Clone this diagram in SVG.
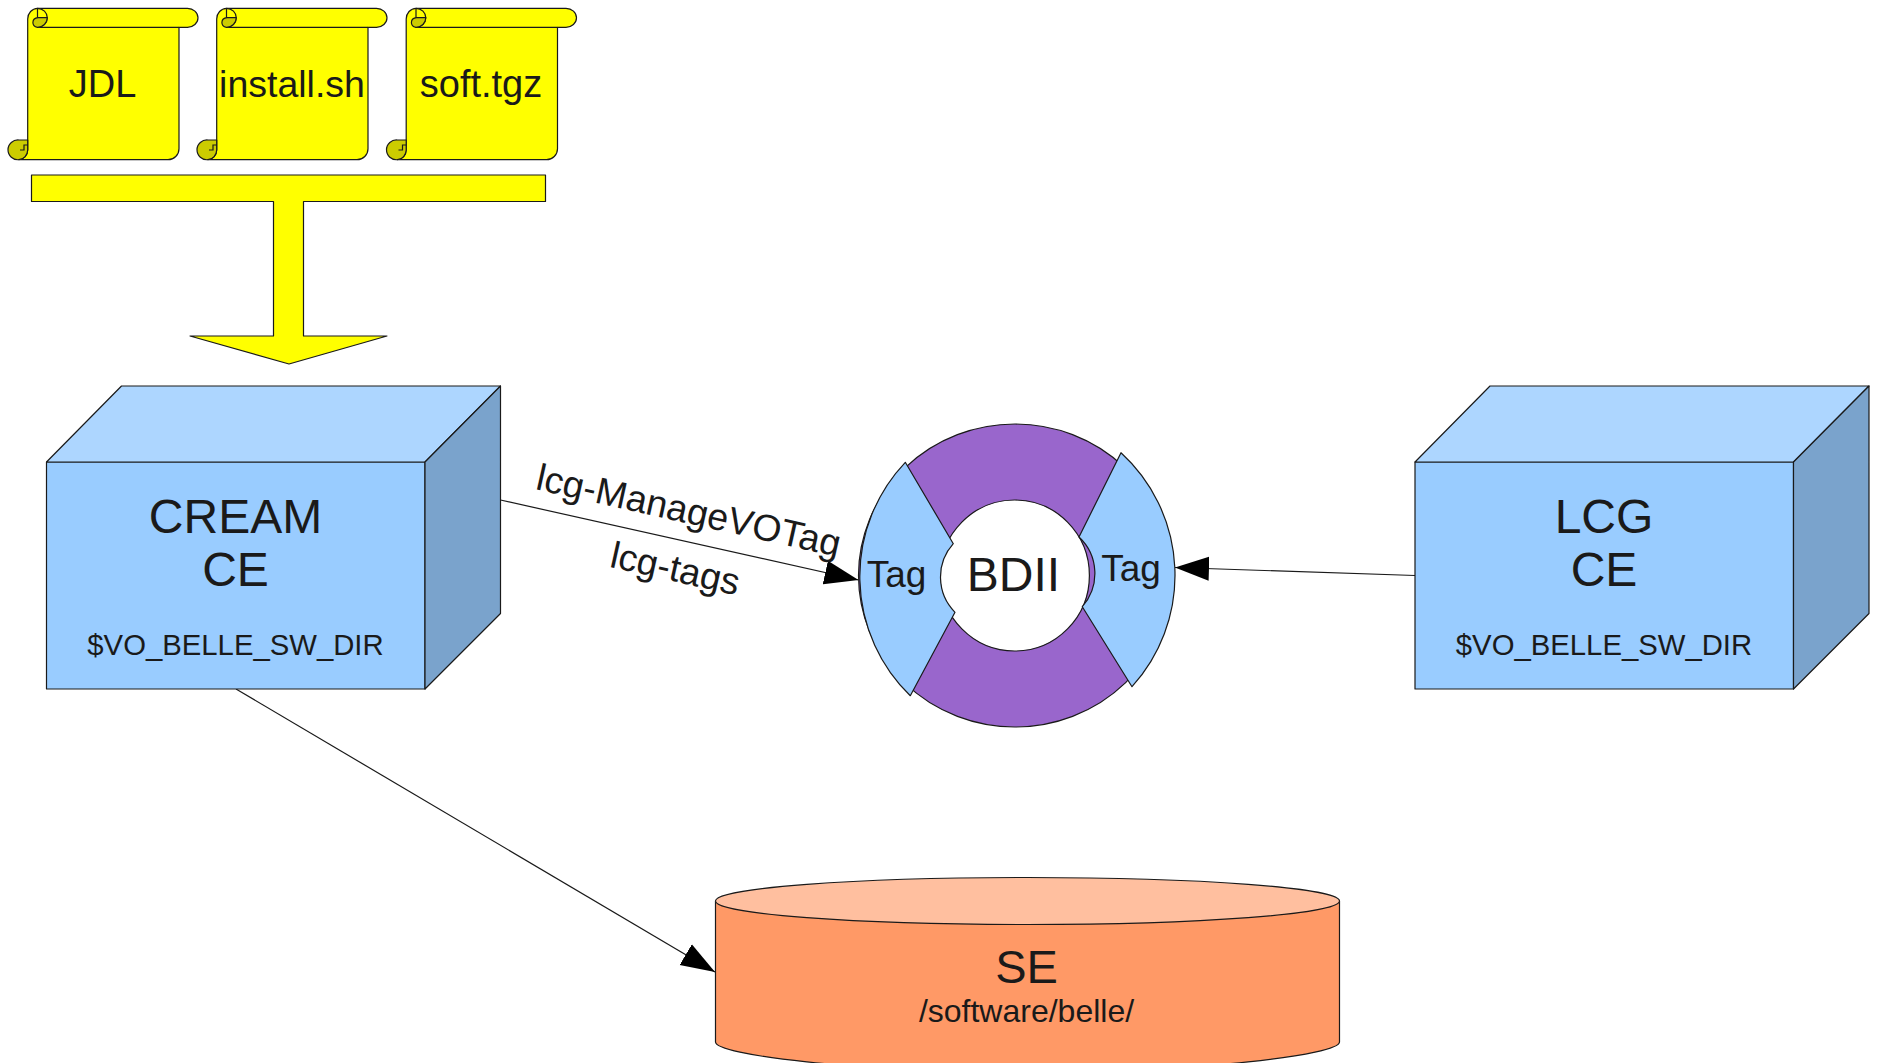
<svg xmlns="http://www.w3.org/2000/svg" xmlns:xlink="http://www.w3.org/1999/xlink" width="1877" height="1063" viewBox="0 0 1877 1063">
<style>
text{font-family:"Liberation Sans",Arial,sans-serif;fill:#1a1a1a;text-anchor:middle}
.s{stroke:#1a1a1a;stroke-width:1.2;stroke-linejoin:round}
.y{fill:#ffff00}.d{fill:#cccc00}
.f{fill:#99ccff}.t{fill:#add6ff}.r{fill:#7aa3cc}
.c{fill:none;stroke:#1a1a1a;stroke-width:1.2}
</style>
<defs>
<marker id="ah" markerUnits="userSpaceOnUse" markerWidth="36" markerHeight="26" refX="34" refY="13" orient="auto"><path d="M0 1L34 13L0 25Z" fill="#000"/></marker>
<g id="scroll">
<path class="s y" d="M27.700 150V19A10 10.700 0 0 1 37.500 8.300H187.500A10.500 9.500 0 0 1 187.500 27.300H179V148.700A11 11 0 0 1 168 159.700H19A9.500 9.900 0 0 0 27.700 150Z"/>
<path class="s d" d="M27.700 140H19A10 9.900 0 1 0 19 159.700A9.500 9.900 0 0 0 27.700 150Z"/>
<path class="c" d="M37.500 27.300H179"/>
<path class="c" d="M27.700 145H24V150H20"/>
<path class="s y" d="M37.500 8.300A10 9.500 0 0 1 47.300 17.800A10 9.500 0 0 1 37.500 27.300Z"/>
<path class="s d" d="M47.300 17.600H38A5.600 4.900 0 0 0 37.500 27.300A10 9.700 0 0 0 47.300 17.600Z"/>
</g>
<g id="box">
<path class="s f" d="M46.500 462H425V689H46.500Z"/>
<path class="s t" d="M46.500 462L121.500 386H500.500L425 462Z"/>
<path class="s r" d="M425 462L500.500 386V613.500L425 689Z"/>
</g>
</defs>
<g id="connectors">
<path class="c" d="M500.500 500L858.500 580" marker-end="url(#ah)"/>
<path class="c" d="M1415 575.500L1175 567.500" marker-end="url(#ah)"/>
<path class="c" d="M236 689L715 972" marker-end="url(#ah)"/>
<text font-size="37.500" transform="translate(686 523) rotate(12.600)">lcg-ManageVOTag</text>
<text font-size="37.500" transform="translate(672.500 581) rotate(12.600)">lcg-tags</text>
</g>
<g id="jdl"><use xlink:href="#scroll" href="#scroll"/><text x="102.500" y="97" font-size="38">JDL</text></g>
<g id="install"><use xlink:href="#scroll" href="#scroll" x="189"/><text x="292" y="97" font-size="37.500">install.sh</text></g>
<g id="soft"><use xlink:href="#scroll" href="#scroll" x="378.500"/><text x="481" y="97" font-size="38">soft.tgz</text></g>
<g id="merge-arrow"><path class="s y" d="M31.500 175H545.500V201.500H303.500V336H387L289 364L190 336H273.500V201.500H31.500Z"/></g>
<g id="cream-ce"><use xlink:href="#box" href="#box"/>
<text x="235.500" y="533" font-size="48">CREAM</text><text x="235.500" y="585.500" font-size="48">CE</text><text x="235.500" y="655" font-size="29.300">$VO_BELLE_SW_DIR</text></g>
<g id="lcg-ce"><use xlink:href="#box" href="#box" x="1368.500"/>
<text x="1604" y="533" font-size="48">LCG</text><text x="1604" y="585.500" font-size="48">CE</text><text x="1604" y="655" font-size="29.300">$VO_BELLE_SW_DIR</text></g>
<g id="bdii">
<path class="s" fill="#9966cc" fill-rule="evenodd" d="M858.500 575.500a156.500 151.500 0 1 0 313 0a156.500 151.500 0 1 0 -313 0ZM940 575.500a74.700 75.500 0 1 0 149.400 0a74.700 75.500 0 1 0 -149.400 0Z"/>
<path class="s f" d="M905.300 462.300A166 166 0 0 0 910.300 695.700L955 612.300A50 50 0 0 1 953.300 543.700Z"/>
<path class="s f" d="M1121 452.700A166 166 0 0 1 1132 686.700L1082.300 606.700A50 50 0 0 0 1079 537Z"/>
<text x="1013.500" y="591" font-size="48">BDII</text>
<text x="896.500" y="587" font-size="37">Tag</text>
<text x="1131" y="581" font-size="37">Tag</text>
</g>
<g id="se">
<path class="s" fill="#ff9966" d="M715.500 901V1042C715.500 1055 855 1072 1027.500 1072S1339.500 1055 1339.500 1042V901Z"/>
<ellipse class="s" fill="#ffbf9f" cx="1027.500" cy="901" rx="312" ry="23.500"/>
<text x="1026.500" y="983" font-size="47">SE</text>
<text x="1026.500" y="1022" font-size="32">/software/belle/</text>
</g>
</svg>
